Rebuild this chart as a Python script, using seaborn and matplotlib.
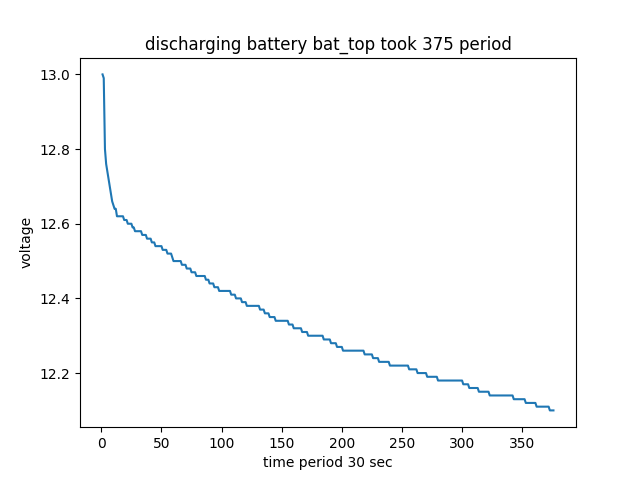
import matplotlib
matplotlib.use("Agg")

import matplotlib.pyplot as plt
import numpy as np
import pandas as pd
import seaborn as sns

# first samples (fast drop), one value per period starting at t=1
head_volt = [13.00, 12.99, 12.80, 12.76, 12.74, 12.72, 12.70, 12.68,
             12.66, 12.65, 12.64, 12.64]

# plateau steps after that: start period and voltage level
step_start = [13, 19, 22, 26, 28, 34, 38, 42, 45, 51, 55, 59, 60, 67, 71, 75,
              79, 87, 90, 94, 98, 108, 112, 117, 121, 132, 136, 140, 145, 156,
              160, 167, 172, 185, 191, 196, 201, 219, 226, 231, 240, 256, 263,
              271, 280, 301, 306, 314, 323, 343, 353, 362, 373]
step_volt = [12.62, 12.61, 12.60, 12.59, 12.58, 12.57, 12.56, 12.55, 12.54,
             12.53, 12.52, 12.51, 12.50, 12.49, 12.48, 12.47, 12.46, 12.45,
             12.44, 12.43, 12.42, 12.41, 12.40, 12.39, 12.38, 12.37, 12.36,
             12.35, 12.34, 12.33, 12.32, 12.31, 12.30, 12.29, 12.28, 12.27,
             12.26, 12.25, 12.24, 12.23, 12.22, 12.21, 12.20, 12.19, 12.18,
             12.17, 12.16, 12.15, 12.14, 12.13, 12.12, 12.11, 12.10]
last_period = 376

lengths = np.diff(step_start + [last_period + 1])
voltage = np.concatenate([head_volt, np.repeat(step_volt, lengths)])
df = pd.DataFrame({"period": np.arange(1, len(voltage) + 1), "voltage": voltage})

fig, ax = plt.subplots(figsize=(6.4, 4.8), dpi=100)
sns.lineplot(data=df, x="period", y="voltage", ax=ax, color="#1f77b4")
ax.set_title("discharging battery bat_top took 375 period")
ax.set_xlabel("time period 30 sec")
ax.set_ylabel("voltage")
fig.savefig("out.png", dpi=100)
